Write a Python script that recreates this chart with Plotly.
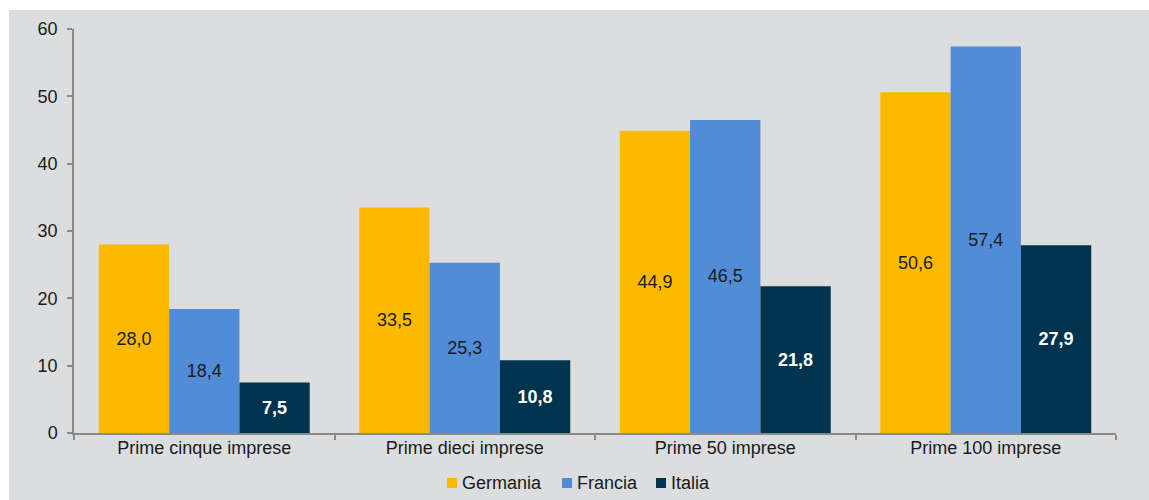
import plotly.graph_objects as go

categories = ["Prime cinque imprese", "Prime dieci imprese", "Prime 50 imprese", "Prime 100 imprese"]
series_names = ["Germania", "Francia", "Italia"]
germania = [28.0, 33.5, 44.9, 50.6]
francia = [18.4, 25.3, 46.5, 57.4]
italia = [7.5, 10.8, 21.8, 27.9]

W, H = 1149, 500
ML, MR, MT, MB = 74, 33, 29, 67
PW, PH = W - ML - MR, H - MT - MB

BG = "#DCDDDF"
AXIS = "#8A8A8A"
INK = "#1a1a1a"
FONT = "Liberation Sans, Arial, sans-serif"
COLORS = ["#FBBA00", "#528CD6", "#00334D"]


def px_x(px):
    return (px - ML) / PW


def px_y(py):
    return (H - MB - py) / PH


fig = go.Figure()
for name, vals, col in zip(series_names, [germania, francia, italia], COLORS):
    dark = name == "Italia"
    fig.add_bar(
        name=name, x=categories, y=vals, marker_color=col,
        texttemplate="<b>%{y:.1f}</b>" if dark else "%{y:.1f}",
        textfont=dict(color="white" if dark else INK, size=18, family=FONT),
    )

fig.update_traces(textposition="inside", insidetextanchor="middle", textangle=0,
                  constraintext="none", marker_line_width=0, showlegend=False)

# grey panel behind the chart, leaving a thin white strip at top and left
fig.add_shape(type="rect", xref="paper", yref="paper", layer="below",
              x0=px_x(9), x1=px_x(W), y0=px_y(H), y1=px_y(10),
              fillcolor=BG, line_width=0)

# legend row: colour squares with series names
legend_sq = [447, 562, 656]
for x0, name, col in zip(legend_sq, series_names, COLORS):
    fig.add_shape(type="rect", xref="paper", yref="paper",
                  x0=px_x(x0), x1=px_x(x0 + 10), y0=px_y(488), y1=px_y(478),
                  fillcolor=col, line_width=0)
    fig.add_annotation(xref="paper", yref="paper", x=px_x(x0 + 13), y=px_y(483),
                       xanchor="left", yanchor="middle", showarrow=False,
                       text=name, font=dict(size=18, family=FONT, color=INK))

fig.update_layout(
    width=W, height=H,
    margin=dict(l=ML, r=MR, t=MT, b=MB),
    paper_bgcolor="white", plot_bgcolor=BG,
    separators=",.",
    barmode="group", bargap=0.19, bargroupgap=0,
    font=dict(family=FONT, size=18, color=INK),
    showlegend=False,
    xaxis=dict(showline=True, linecolor=AXIS, linewidth=1.5, ticks="outside",
               tickson="boundaries", ticklen=5, tickcolor=AXIS, tickwidth=1.5,
               ticklabelstandoff=-2,
               showgrid=False, tickfont=dict(size=18, family=FONT, color=INK)),
    yaxis=dict(range=[0, 60], dtick=10, showline=True, linecolor=AXIS, linewidth=1.5,
               ticks="outside", ticklen=5, tickcolor=AXIS, tickwidth=1.5,
               ticklabelstandoff=6,
               showgrid=False, zeroline=False, tickfont=dict(size=18, family=FONT, color=INK)),
)

fig.write_html("out.html")
